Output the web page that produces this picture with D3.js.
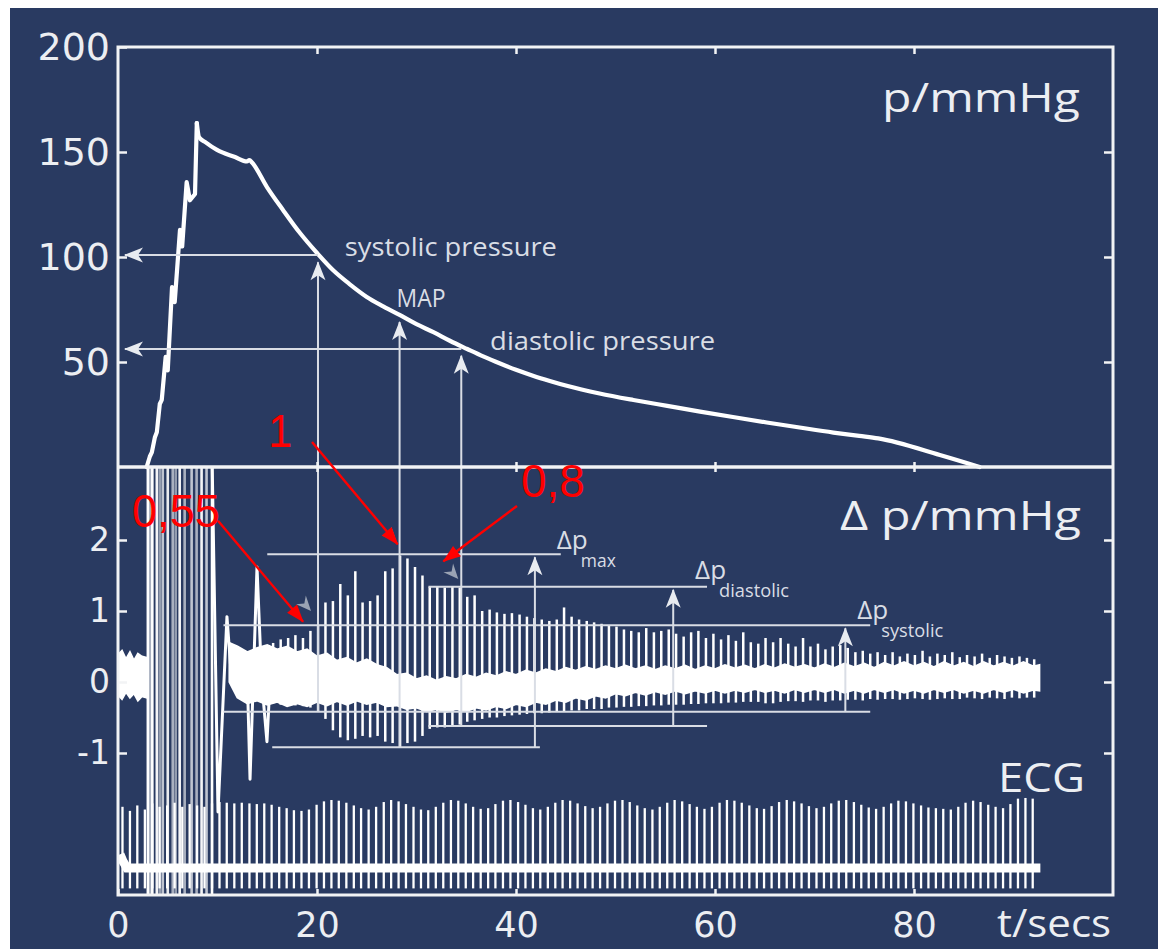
<!DOCTYPE html>
<html><head><meta charset="utf-8">
<script src="https://cdn.jsdelivr.net/npm/d3@7"></script>
<style>body{margin:0;background:#fff;} svg{display:block}</style>
</head><body>
<script>
// ---------------- DATA ----------------
// cuff pressure curve (t in s, p in mmHg)
const pT = [2.88, 3.2, 3.4, 3.7, 3.9, 4.2, 4.4, 4.79, 5.0, 5.43, 5.7, 6.23, 6.45, 6.9, 7.23, 7.74, 7.92,
  8.14, 8.74, 9.95, 11.76, 12.96, 13.2, 13.47, 14.97, 16.58, 18.29, 20.0, 21.6, 23.3, 25.0, 26.7, 28.3, 30.0,
  31.7, 33.4, 35.1, 36.7, 38.4, 40.0, 41.7, 43.4, 45.1, 48.4, 51.8, 55.2, 58.5, 61.8, 65.2, 68.5, 71.9, 74.5,
  76.4, 82.6, 86.6];
const pV = [0, 5, 7, 14, 16.5, 30, 32, 52.4, 46, 85.7, 78.5, 112.9, 105, 135.7, 127, 130, 163.8,
  157.1, 154.8, 151, 147.6, 145.5, 146.2, 145, 133.3, 122.4, 111.4, 101.9, 93.8, 87, 81, 76.4, 72.4, 68,
  64.2, 60, 56.2, 52.7, 49.3, 46.3, 43.5, 41, 38.7, 35, 31.9, 29.1, 26.4, 23.8, 21.2, 18.8, 16.4, 14.8,
  13.6, 5.7, 0];
const peakIndex = 16;   // inflation staircase ends at the cuff-pressure maximum

// heart beats (ECG R-peaks, s)
const beatTimes = [
 0.45, 1.20, 1.94, 2.70, 3.45, 4.18, 4.94, 5.69, 6.46, 7.20,
 7.95, 8.69, 9.45, 10.20, 10.93, 11.69, 12.44, 13.21, 13.95, 14.70,
 15.44, 16.20, 16.95, 17.68, 18.44, 19.19, 19.96, 20.70, 21.45, 22.19,
 22.95, 23.70, 24.43, 25.19, 25.94, 26.71, 27.45, 28.20, 28.94, 29.70,
 30.45, 31.18, 31.94, 32.69, 33.46, 34.20, 34.95, 35.69, 36.45, 37.20,
 37.93, 38.69, 39.44, 40.21, 40.95, 41.70, 42.44, 43.20, 43.95, 44.68,
 45.44, 46.19, 46.96, 47.70, 48.45, 49.19, 49.95, 50.70, 51.43, 52.19,
 52.94, 53.71, 54.45, 55.20, 55.94, 56.70, 57.45, 58.18, 58.94, 59.69,
 60.46, 61.20, 61.95, 62.69, 63.45, 64.20, 64.93, 65.69, 66.44, 67.21,
 67.95, 68.70, 69.44, 70.20, 70.95, 71.68, 72.44, 73.19, 73.96, 74.70,
 75.45, 76.19, 76.95, 77.70, 78.43, 79.19, 79.94, 80.71, 81.45, 82.20,
 82.94, 83.70, 84.45, 85.18, 85.94, 86.69, 87.46, 88.20, 88.95, 89.69,
 90.45, 91.20, 91.93];
const pulseDelay = 0.15;

// oscillation peak / trough per beat (mmHg)
const oscHigh = [
 null,null,null,null,null,null,null,null,null,null,
 null,null,null,null,null,null,null,null,null,null,
 0.55, 0.60, 0.62, 0.66, 0.62, 0.72, 0.80, 1.12, 1.14, 1.38,
 1.22, 1.56, 1.12, 1.14, 1.22, 1.56, 1.60, 1.78, 1.74, 1.62,
 1.50, 1.34, 1.34, 1.33, 1.34, 1.33, 1.20, 1.22, 1.00, 1.02,
 0.98, 0.96, 0.97, 0.95, 0.92, 0.90, 0.88, 0.86, 0.88, 1.05,
 0.92, 0.88, 0.86, 0.84, 0.82, 0.80, 0.78, 0.74, 0.72, 0.70,
 0.76, 0.70, 0.72, 0.74, 0.68, 0.64, 0.70, 0.72, 0.62, 0.68,
 0.60, 0.66, 0.58, 0.70, 0.56, 0.54, 0.62, 0.56, 0.62, 0.54,
 0.50, 0.62, 0.50, 0.54, 0.46, 0.50, 0.52, 0.48, 0.42, 0.44,
 0.40, 0.42, 0.38, 0.42, 0.36, 0.40, 0.38, 0.44, 0.36, 0.40,
 0.38, 0.42, 0.35, 0.38, 0.36, 0.40, 0.34, 0.38, 0.36, 0.34,
 0.36, 0.34, 0.32];
const oscLow = [
 null,null,null,null,null,null,null,null,null,null,
 null,null,null,null,null,null,null,null,null,null,
 -0.30, -0.32, -0.30, -0.33, -0.34, -0.36, -0.42, -0.52, -0.68, -0.78,
 -0.82, -0.80, -0.76, -0.78, -0.76, -0.84, -0.86, -0.92, -0.86, -0.84,
 -0.76, -0.66, -0.64, -0.64, -0.62, -0.60, -0.56, -0.54, -0.52, -0.50,
 -0.50, -0.48, -0.47, -0.46, -0.45, -0.44, -0.44, -0.43, -0.42, -0.42,
 -0.40, -0.40, -0.38, -0.38, -0.38, -0.36, -0.36, -0.35, -0.35, -0.34,
 -0.34, -0.33, -0.33, -0.32, -0.32, -0.32, -0.31, -0.31, -0.30, -0.30,
 -0.30, -0.29, -0.29, -0.28, -0.28, -0.28, -0.30, -0.30, -0.28, -0.27,
 -0.27, -0.28, -0.26, -0.26, -0.28, -0.26, -0.26, -0.25, -0.25, -0.26,
 -0.24, -0.25, -0.24, -0.24, -0.25, -0.24, -0.23, -0.24, -0.25, -0.24,
 -0.23, -0.24, -0.24, -0.22, -0.23, -0.24, -0.22, -0.23, -0.24, -0.22,
 -0.23, -0.22, -0.22];

// ECG R-peak height per beat (relative units)
const ecgPeak = [
 0.90, 0.84, 0.92, 0.86, 0.95, 0.90, 0.92, 0.96, 0.90, 0.94,
 0.92, 0.90, 0.95, 0.97, 0.96, 0.95, 0.96, 0.95, 0.94, 0.95,
 0.93, 0.90, 0.88, 0.85, 0.84, 0.86, 0.93, 0.98, 1.00, 0.99,
 0.96, 0.92, 0.88, 0.86, 0.90, 0.97, 1.00, 0.98, 0.94, 0.90,
 0.86, 0.85, 0.90, 0.96, 1.00, 0.99, 0.95, 0.90, 0.87, 0.88,
 0.94, 0.99, 1.00, 0.97, 0.93, 0.88, 0.86, 0.90, 0.96, 1.00,
 0.99, 0.95, 0.91, 0.88, 0.90, 0.95, 0.99, 1.00, 0.97, 0.92,
 0.88, 0.86, 0.90, 0.96, 1.00, 0.98, 0.94, 0.90, 0.87, 0.90,
 0.96, 1.00, 0.99, 0.96, 0.92, 0.88, 0.87, 0.91, 0.97, 1.00,
 0.98, 0.95, 0.91, 0.88, 0.90, 0.95, 0.99, 1.00, 0.97, 0.93,
 0.89, 0.87, 0.90, 0.95, 0.99, 0.98, 0.95, 0.92, 0.89, 0.88,
 0.87, 0.86, 0.90, 0.96, 0.99, 0.97, 0.93, 0.90, 0.88, 0.94,
 1.02, 1.03, 1.02];
const ecgDip = -0.3;
const ecgBaseT = [0.2, 0.5, 0.9, 92.7];
const ecgBaseV = [0.2, 0.1, 0, 0];

// ripple band of the oscillation signal
const bandTimes = [0, 0.4, 0.8, 1.2, 1.6, 2.0, 2.4, 2.9, null,
 11.2, 12, 13, 14, 15, 16, 17, 18, 19, 20,
 21, 22, 23, 24, 25, 26, 27, 28, 29, 30,
 31, 32, 33, 34, 35, 36, 37, 38, 39, 40,
 41, 42, 43, 44, 45, 46, 47, 48, 49, 50,
 51, 52, 53, 54, 55, 56, 57, 58, 59, 60,
 61, 62, 63, 64, 65, 66, 67, 68, 69, 70,
 71, 72, 73, 74, 75, 76, 77, 78, 79, 80,
 81, 82, 83, 84, 85, 86, 87, 88, 89, 90,
 91, 92, 92.6];
const bandHigh = [0.38, 0.44, 0.32, 0.42, 0.30, 0.40, 0.36, 0.34, null,
 0.55, 0.50, 0.42, 0.48, 0.52, 0.46, 0.50, 0.42, 0.46, 0.36,
 0.40, 0.30, 0.34, 0.26, 0.32, 0.24, 0.20, 0.10, 0.12, 0.04,
 0.08, 0.02, 0.07, 0.04, 0.10, 0.06, 0.12, 0.08, 0.14, 0.10,
 0.16, 0.12, 0.18, 0.14, 0.20, 0.16, 0.21, 0.17, 0.22, 0.18,
 0.23, 0.18, 0.22, 0.17, 0.22, 0.18, 0.23, 0.17, 0.22, 0.18,
 0.24, 0.19, 0.23, 0.18, 0.24, 0.19, 0.25, 0.20, 0.24, 0.19,
 0.25, 0.20, 0.26, 0.21, 0.26, 0.20, 0.27, 0.22, 0.28, 0.22,
 0.27, 0.21, 0.28, 0.22, 0.27, 0.21, 0.28, 0.22, 0.27, 0.22,
 0.28, 0.22, 0.24];
const bandLow = [-0.18, -0.24, -0.14, -0.22, -0.16, -0.26, -0.20, -0.22, null,
 0.00, -0.22, -0.30, -0.26, -0.32, -0.28, -0.34, -0.30, -0.34, -0.28,
 -0.33, -0.27, -0.32, -0.26, -0.31, -0.28, -0.34, -0.33, -0.38, -0.36,
 -0.41, -0.38, -0.42, -0.38, -0.41, -0.36, -0.39, -0.34, -0.37, -0.31,
 -0.34, -0.28, -0.31, -0.25, -0.28, -0.22, -0.25, -0.19, -0.22, -0.16,
 -0.19, -0.14, -0.18, -0.13, -0.17, -0.12, -0.16, -0.12, -0.15, -0.11,
 -0.15, -0.11, -0.14, -0.10, -0.14, -0.11, -0.15, -0.10, -0.14, -0.10,
 -0.14, -0.10, -0.15, -0.11, -0.15, -0.10, -0.14, -0.10, -0.15, -0.11,
 -0.15, -0.10, -0.14, -0.10, -0.15, -0.11, -0.15, -0.10, -0.14, -0.10,
 -0.15, -0.11, -0.12];

// inflation artefact (off-scale swings) and transient
const artifactTimes = [3.0, 3.25, 3.45, 3.9, 4.2, 4.5, 5.0, 5.5, 5.8, 6.2, 6.7, 7.4, 7.9, 8.4, 8.9, 9.45];
const artifactAlpha = [1, 0.6, 1, 0.95, 0.5, 0.7, 0.9, 0.6, 0.5, 0.95, 0.6, 0.7, 0.6, 0.95, 0.7, 1];
const transT = [9.45, 10.05, 10.95, 11.3, 11.8, 12.4, 12.95, 13.27, 13.97, 14.45, 14.97, 15.3];
const transV = [3.2, -1.83, 0.92, 0.25, 0.45, 0.1, 0.3, -1.37, 1.62, 0.0, -0.84, 0.05];

// pressure read-outs
const markNames = ["systolic pressure", "MAP", "diastolic pressure"];
const markT = [20.1, 28.3, 34.5];
const markLevel = [101, null, 56.2];
const markTip = [97.5, 69, 53];
const markFrom = [-0.42, -0.92, -0.62];
const markLabelT = [22.8, 28.0, 37.4];
const markLabelP = [100.5, 76.2, 55.7];
const markLabelW = [212, 49, 225];

// oscillation amplitude read-outs
const refNames = ["max", "diastolic", "systolic"];
const refTop = [1.8, 1.34, 0.8];
const refBottom = [-0.92, -0.62, -0.42];
const refTopStart = [15.0, 31.2, 10.6];
const refTopEnd = [44.5, 59.2, 75.6];
const refBotStart = [15.5, 31.2, 10.6];
const refBotEnd = [42.4, 59.2, 75.6];
const refArrowT = [41.9, 55.8, 73.1];
const refLabelT = [44.1, 58.0, 74.3];
const refLabelV = [1.87, 1.45, 0.89];
const refSubW = [35, 70, 62];

// ratio annotations (red)
const ratioText = ["1", "0,8", "0,55"];
const ratioTextT = [15.1, 40.5, 1.4];
const ratioTextV = [9.5, 2.6, 2.18];      // first in mmHg (upper panel), others Δp
const ratioPanel = ["p", "d", "d"];
const ratioW = [24, 64, 88];
const ratioFromT = [19.5, 40.1, 10.05];
const ratioFromV = [11.9, 2.48, 2.27];
const ratioToT = [28.1, 32.7, 18.6];
const ratioToV = [1.94, 1.70, 0.85];
const grayTipT = [19.4, 28.0, 34.2];
const grayTipV = [1.0, 1.97, 1.45];

const xTicks = [0, 20, 40, 60, 80];
const pTicks = [50, 100, 150, 200];
const dTicks = [-1, 0, 1, 2];

// ---------------- CHART ----------------
const svg = d3.select("body").append("svg").attr("width", 1158).attr("height", 949);
svg.append("rect").attr("width", 1158).attr("height", 949).attr("fill", "#fff");
svg.append("rect").attr("x", 10).attr("y", 8).attr("width", 1148).attr("height", 941).attr("fill", "#293a61");

const x = d3.scaleLinear().domain([0, 100]).range([118, 1113]);
const yP = d3.scaleLinear().domain([0, 200]).range([467, 47]);
const yD = d3.scaleLinear().domain([-1, 2]).range([753, 540]);
const yE = d3.scaleLinear().domain([0, 1]).range([868, 800]);

const FRAME = "#f2f3f5", ANN = "#d9dde5", LBL = "#eceef2";

const defs = svg.append("defs");
defs.append("clipPath").attr("id", "lowClip").append("rect")
  .attr("x", x(0)).attr("y", yP(0)).attr("width", x(100) - x(0)).attr("height", 895 - yP(0));
function marker(id, d, fill) {
  defs.append("marker").attr("id", id).attr("viewBox", "-22 -11 24 22")
    .attr("refX", 0).attr("refY", 0).attr("markerWidth", 24).attr("markerHeight", 22)
    .attr("markerUnits", "userSpaceOnUse").attr("orient", "auto")
    .append("path").attr("d", d).attr("fill", fill);
}
marker("hW", "M1,0 L-18,-7.5 L-13,0 L-18,7.5 Z", "#e8ebf0");
marker("hR", "M1,0 L-17,-6.5 L-17,6.5 Z", "#ff0000");

// ---- lower panel signal ----
const low = svg.append("g").attr("clip-path", "url(#lowClip)");

const bandIdx = d3.range(bandTimes.length);
low.append("path").datum(bandIdx)
  .attr("d", d3.area().defined(i => bandHigh[i] != null)
    .x(i => x(bandTimes[i])).y0(i => yD(bandLow[i])).y1(i => yD(bandHigh[i])))
  .attr("fill", "#fff").attr("stroke", "#fff").attr("stroke-width", 2);

low.selectAll("line.art").data(artifactTimes).join("line").attr("class", "art")
  .attr("x1", d => x(d)).attr("x2", d => x(d))
  .attr("y1", yD(3.3)).attr("y2", yD(-3.3))
  .attr("stroke", "#fff").attr("stroke-width", 2.6)
  .attr("opacity", (d, i) => artifactAlpha[i]);

low.append("path").datum(d3.range(transT.length))
  .attr("d", d3.line().x(i => x(transT[i])).y(i => yD(transV[i])))
  .attr("fill", "none").attr("stroke", "#fff").attr("stroke-width", 3).attr("stroke-linejoin", "round");

const spikeIdx = d3.range(beatTimes.length).filter(i => oscHigh[i] != null);
low.selectAll("line.sp").data(spikeIdx).join("line").attr("class", "sp")
  .attr("x1", i => x(beatTimes[i] + pulseDelay)).attr("x2", i => x(beatTimes[i] + pulseDelay))
  .attr("y1", i => yD(oscLow[i])).attr("y2", i => yD(oscHigh[i]))
  .attr("stroke", "#fff").attr("stroke-width", 2.5);

// ECG
low.append("path").datum(d3.range(ecgBaseT.length))
  .attr("d", d3.line().x(i => x(ecgBaseT[i])).y(i => yE(ecgBaseV[i])))
  .attr("fill", "none").attr("stroke", "#fff").attr("stroke-width", 9);
low.selectAll("line.ecg").data(d3.range(beatTimes.length)).join("line").attr("class", "ecg")
  .attr("x1", i => x(beatTimes[i])).attr("x2", i => x(beatTimes[i]))
  .attr("y1", yE(ecgDip)).attr("y2", i => yE(ecgPeak[i]))
  .attr("stroke", "#fff").attr("stroke-width", 2.3);

// ---- pressure curve: linear inflation staircase + smooth deflation ----
const pStyle = p => p.attr("fill", "none").attr("stroke", "#fff").attr("stroke-width", 4.2)
  .attr("stroke-linejoin", "round").attr("stroke-linecap", "round");
svg.append("path").datum(d3.range(0, peakIndex + 1))
  .attr("d", d3.line().x(i => x(pT[i])).y(i => yP(pV[i]))).call(pStyle);
svg.append("path").datum(d3.range(peakIndex, pT.length))
  .attr("d", d3.line().curve(d3.curveMonotoneX).x(i => x(pT[i])).y(i => yP(pV[i]))).call(pStyle);

// ---- annotation lines ----
const ann = svg.append("g").attr("stroke", ANN).attr("stroke-width", 2).attr("fill", "none");
markT.forEach((t, i) => {
  if (markLevel[i] != null) {
    ann.append("line").attr("x1", x(t)).attr("y1", yP(markLevel[i]))
      .attr("x2", x(0.7)).attr("y2", yP(markLevel[i])).attr("marker-end", "url(#hW)");
  }
  ann.append("line").attr("x1", x(t)).attr("y1", yD(markFrom[i]))
    .attr("x2", x(t)).attr("y2", yP(markTip[i])).attr("marker-end", "url(#hW)");
});
refNames.forEach((n, i) => {
  ann.append("line").attr("x1", x(refTopStart[i])).attr("x2", x(refTopEnd[i]))
    .attr("y1", yD(refTop[i])).attr("y2", yD(refTop[i]));
  ann.append("line").attr("x1", x(refBotStart[i])).attr("x2", x(refBotEnd[i]))
    .attr("y1", yD(refBottom[i])).attr("y2", yD(refBottom[i]));
  ann.append("line").attr("x1", x(refArrowT[i])).attr("x2", x(refArrowT[i]))
    .attr("y1", yD(refBottom[i])).attr("y2", yD(refTop[i]) + 3).attr("marker-end", "url(#hW)");
});

// gray small arrowheads
svg.selectAll("path.gtip").data(grayTipT).join("path").attr("class", "gtip")
  .attr("d", "M0,0 L-15,-6.5 L-10,0 L-15,6.5 Z")
  .attr("transform", (t, i) => `translate(${x(t)},${yD(grayTipV[i])}) rotate(48)`)
  .attr("fill", "#9aa3b4");

// ---- frame & axes ----
svg.append("rect").attr("x", x(0)).attr("y", yP(200)).attr("width", x(100) - x(0)).attr("height", 895 - yP(200))
  .attr("fill", "none").attr("stroke", FRAME).attr("stroke-width", 3);
svg.append("line").attr("x1", x(0)).attr("x2", x(100)).attr("y1", yP(0)).attr("y2", yP(0))
  .attr("stroke", FRAME).attr("stroke-width", 3.5);

function styleAxis(g, size) {
  g.select(".domain").remove();
  g.selectAll(".tick line").attr("stroke", FRAME).attr("stroke-width", 2.5);
  g.selectAll(".tick text").attr("fill", LBL).style("font-family", "DejaVu Sans").style("font-size", size + "px");
}
svg.append("g").attr("transform", `translate(${x(0)},0)`)
  .call(d3.axisLeft(yP).tickValues(pTicks).tickSize(-9).tickPadding(8).tickFormat(d3.format("d")))
  .call(g => styleAxis(g, 38));
svg.append("g").attr("transform", `translate(${x(0)},0)`)
  .call(d3.axisLeft(yD).tickValues(dTicks).tickSize(-9).tickPadding(8).tickFormat(d => d < 0 ? "-" + Math.abs(d) : String(d)))
  .call(g => styleAxis(g, 33));
svg.append("g").attr("transform", `translate(${x(100)},0)`)
  .call(d3.axisRight(yP).tickValues(pTicks.slice(0, 3)).tickSize(-9).tickFormat(""))
  .call(g => styleAxis(g, 10));
svg.append("g").attr("transform", `translate(${x(100)},0)`)
  .call(d3.axisRight(yD).tickValues(dTicks).tickSize(-9).tickFormat(""))
  .call(g => styleAxis(g, 10));
svg.append("g").attr("transform", `translate(0,895)`)
  .call(d3.axisBottom(x).tickValues(xTicks).tickSize(-6).tickPadding(17))
  .call(g => styleAxis(g, 35));
svg.append("g").attr("transform", `translate(0,${yP(200)})`)
  .call(d3.axisTop(x).tickValues(xTicks.slice(1)).tickSize(-7).tickFormat(""))
  .call(g => styleAxis(g, 10));
svg.append("g").attr("transform", `translate(0,${yP(0)})`)
  .call(d3.axisTop(x).tickValues(xTicks.slice(1)).tickSize(5).tickFormat(""))
  .call(g => styleAxis(g, 10));
svg.append("g").attr("transform", `translate(0,${yP(0)})`)
  .call(d3.axisBottom(x).tickValues(xTicks.slice(1)).tickSize(5).tickFormat(""))
  .call(g => styleAxis(g, 10));

// ---- titles ----
function label(txt, xx, yy, size, w, anchor, fill, fam) {
  const t = svg.append("text").attr("x", xx).attr("y", yy).text(txt)
    .attr("fill", fill || LBL).style("font-family", fam || "Open Sans").style("font-size", size + "px")
    .attr("text-anchor", anchor || "start");
  if (w) t.attr("textLength", w).attr("lengthAdjust", "spacingAndGlyphs");
  return t;
}
label("p/mmHg", x(100) - 33, 112, 40, 198, "end");
label("\u0394 p/mmHg", x(100) - 32, 530, 40, 241, "end");
label("ECG", x(100) - 28, 792, 40, 87, "end");
label("t/secs", x(100) - 2, 937, 38, 114, "end");

markNames.forEach((n, i) => label(n, x(markLabelT[i]), yP(markLabelP[i]), 26, markLabelW[i], "start", ANN));
refNames.forEach((n, i) => {
  label("\u0394p", x(refLabelT[i]), yD(refLabelV[i]), 25, 31, "start", ANN);
  label(n, x(refLabelT[i]) + 24, yD(refLabelV[i]) + 18, 18, refSubW[i], "start", ANN);
});

// ---- red ratio annotations ----
const yOf = (panel, v) => panel === "p" ? yP(v) : yD(v);
ratioText.forEach((s, i) => {
  label(s, x(ratioTextT[i]), yOf(ratioPanel[i], ratioTextV[i]), 46, ratioW[i], "start", "#ff0000", "Liberation Sans");
});
ratioText.forEach((s, i) => {
  const y1 = i === 0 ? yP(ratioFromV[i]) : yD(ratioFromV[i]);
  svg.append("line").attr("x1", x(ratioFromT[i])).attr("y1", y1)
    .attr("x2", x(ratioToT[i])).attr("y2", yD(ratioToV[i]))
    .attr("stroke", "#ff0000").attr("stroke-width", 2.4).attr("marker-end", "url(#hR)");
});
</script>
</body></html>
